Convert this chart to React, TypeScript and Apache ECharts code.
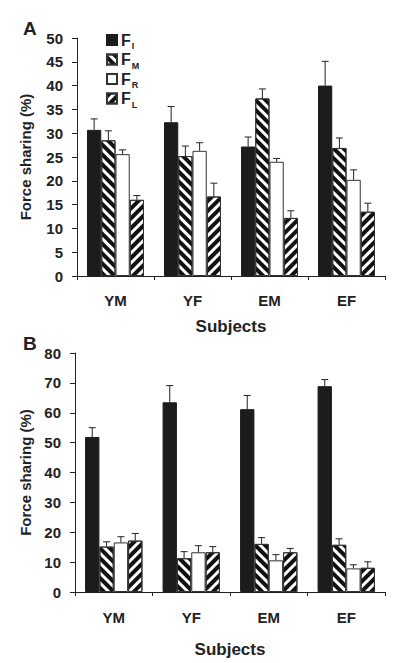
import React, { useEffect, useRef } from "react";
import * as echarts from "echarts";

const categories = ["YM", "YF", "EM", "EF"];
const seriesNames = ["F_I", "F_M", "F_R", "F_L"];
const subscripts = ["I", "M", "R", "L"];

// Panel A means and upper error (SD)
const aFI = [30.7, 32.3, 27.2, 40.0];
const aFM = [28.5, 25.2, 37.3, 26.9];
const aFR = [25.6, 26.3, 24.0, 20.2];
const aFL = [16.0, 16.7, 12.2, 13.5];
const aFIerr = [2.3, 3.3, 2.0, 5.1];
const aFMerr = [2.0, 2.1, 2.0, 2.1];
const aFRerr = [0.9, 1.7, 0.7, 2.1];
const aFLerr = [0.9, 2.8, 1.5, 1.8];

// Panel B means and upper error (SD)
const bFI = [51.9, 63.5, 61.2, 68.9];
const bFM = [15.2, 11.3, 16.1, 15.8];
const bFR = [16.6, 13.3, 10.6, 7.9];
const bFL = [17.2, 13.3, 13.3, 8.1];
const bFIerr = [3.1, 5.6, 4.6, 2.2];
const bFMerr = [1.6, 2.2, 2.1, 2.0];
const bFRerr = [1.9, 2.2, 1.9, 1.2];
const bFLerr = [2.4, 1.9, 1.3, 2.0];

const aTicks = { min: 0, max: 50, interval: 5 };
const bTicks = { min: 0, max: 80, interval: 10 };

const FONT = "'Liberation Sans', Arial, Helvetica, sans-serif";
const CAT_GAP = 0.26;

const stripe = (rot: number) => ({
  symbol: "rect",
  symbolSize: 1,
  dashArrayX: [1, 0],
  dashArrayY: [3.4, 3],
  rotation: rot,
  color: "#111",
  backgroundColor: "#ffffff",
});

const styles = [
  { color: "#1c1c1c", borderColor: "#1c1c1c", borderWidth: 1 },
  { color: "#ffffff", borderColor: "#333", borderWidth: 1, decal: stripe(Math.PI / 4) },
  { color: "#ffffff", borderColor: "#333", borderWidth: 1 },
  { color: "#ffffff", borderColor: "#333", borderWidth: 1, decal: stripe(-Math.PI / 4) },
];

function makeErr(si: number, vals: number[], errs: number[], axisIdx: number) {
  return {
    type: "custom",
    xAxisIndex: axisIdx,
    yAxisIndex: axisIdx,
    z: 5,
    silent: true,
    data: vals.map((v, i) => [i, v, errs[i]]),
    renderItem: (params: any, api: any) => {
      const ci = api.value(0);
      const val = api.value(1);
      const err = api.value(2);
      const base = api.coord([ci, val]);
      const top = api.coord([ci, val + err]);
      const catW = api.size([1, 0])[0];
      const barW = (catW * (1 - CAT_GAP)) / 4;
      const x = base[0] - 2 * barW + barW * (si + 0.5);
      const st = { stroke: "#222", lineWidth: 1 };
      return {
        type: "group",
        children: [
          { type: "line", shape: { x1: x, y1: base[1], x2: x, y2: top[1] }, style: st },
          { type: "line", shape: { x1: x - 3.5, y1: top[1], x2: x + 3.5, y2: top[1] }, style: st },
        ],
      };
    },
  };
}

function makeAxes(idx: number, ticks: any) {
  const x = {
    type: "category",
    gridIndex: idx,
    data: categories,
    boundaryGap: true,
    name: "Subjects",
    nameLocation: "middle",
    nameGap: idx === 0 ? 42 : 49,
    nameTextStyle: { fontFamily: FONT, fontWeight: "bold", fontSize: 17, color: "#222" },
    axisLine: { lineStyle: { color: "#222", width: 1 } },
    axisTick: { show: true, length: 4, lineStyle: { color: "#222" } },
    axisLabel: { margin: idx === 0 ? 17 : 18, fontFamily: FONT, fontWeight: "bold", fontSize: 15, color: "#222" },
    splitLine: { show: false },
  };
  const y = {
    type: "value",
    gridIndex: idx,
    min: ticks.min,
    max: ticks.max,
    interval: ticks.interval,
    name: "Force sharing (%)",
    nameLocation: "middle",
    nameGap: idx === 0 ? 44 : 42,
    nameTextStyle: { fontFamily: FONT, fontWeight: "bold", fontSize: 15, color: "#222" },
    axisLine: { show: true, lineStyle: { color: "#222", width: 1 } },
    axisTick: { show: true, length: 5, lineStyle: { color: "#222" } },
    axisLabel: { margin: 14, fontFamily: FONT, fontWeight: "bold", fontSize: 15, color: "#222" },
    splitLine: { show: false },
  };
  return { x, y };
}

export default function App() {
  const ref = useRef<HTMLDivElement>(null);
  useEffect(() => {
    if (!ref.current) return;
    const chart = echarts.init(ref.current, null, { renderer: "svg" });
    const axA = makeAxes(0, aTicks);
    const axB = makeAxes(1, bTicks);
    const aVals = [aFI, aFM, aFR, aFL];
    const aErrs = [aFIerr, aFMerr, aFRerr, aFLerr];
    const bVals = [bFI, bFM, bFR, bFL];
    const bErrs = [bFIerr, bFMerr, bFRerr, bFLerr];
    const barSeries: any[] = [];
    const errSeries: any[] = [];
    [0, 1].forEach((g) => {
      const vals = g === 0 ? aVals : bVals;
      const errs = g === 0 ? aErrs : bErrs;
      vals.forEach((v, si) => {
        barSeries.push({
          type: "bar",
          name: seriesNames[si],
          xAxisIndex: g,
          yAxisIndex: g,
          data: v,
          barGap: "0%",
          barCategoryGap: CAT_GAP * 100 + "%",
          itemStyle: styles[si],
        });
        errSeries.push(makeErr(si, v, errs[si], g));
      });
    });
    chart.setOption({
      animation: false,
      backgroundColor: "#ffffff",
      textStyle: { fontFamily: FONT },
      grid: [
        { left: 77, top: 38, width: 308, height: 238 },
        { left: 75, top: 353, width: 310, height: 239 },
      ],
      xAxis: [axA.x, axB.x],
      yAxis: [axA.y, axB.y],
      legend: {
        orient: "vertical",
        left: 101,
        top: 27,
        icon: "rect",
        itemWidth: 10,
        itemHeight: 10,
        itemGap: 1,
        selectedMode: false,
        data: seriesNames,
        formatter: (name: string) => {
          const i = seriesNames.indexOf(name);
          return "{f|F}{s|" + subscripts[i] + "}";
        },
        textStyle: {
          padding: [0, 0, 0, -1],
          rich: {
            f: { fontFamily: FONT, fontSize: 16, fontWeight: "bold", color: "#222", lineHeight: 15 },
            s: { fontFamily: FONT, fontSize: 9, fontWeight: "bold", color: "#222", lineHeight: 9, verticalAlign: "bottom", padding: [0, 0, -3, 1] },
          },
        },
      },
      graphic: [
        { type: "text", left: 23, top: 19, style: { text: "A", font: "bold 19px " + FONT, fill: "#222" } },
        { type: "text", left: 23, top: 334, style: { text: "B", font: "bold 19px " + FONT, fill: "#222" } },
      ],
      series: [...barSeries, ...errSeries],
    });
    return () => chart.dispose();
  }, []);
  return (
    <div
      ref={ref}
      style={{ position: "fixed", left: 0, top: 0, width: 400, height: 663, background: "#fff" }}
    />
  );
}
